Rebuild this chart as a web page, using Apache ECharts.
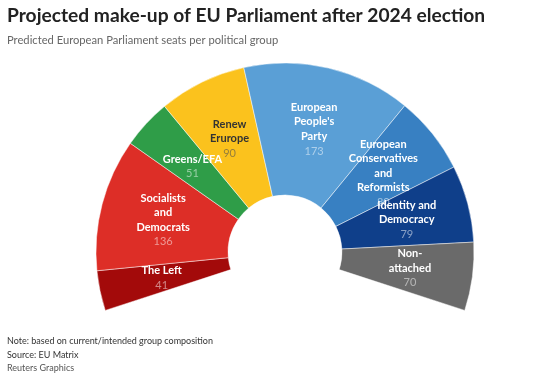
<!DOCTYPE html>
<html lang="en">
<head>
    <meta charset="UTF-8">
    <title>Projected make-up of EU Parliament after 2024 election</title>
    <script src="https://cdn.jsdelivr.net/npm/echarts@6/dist/echarts.min.js"></script>
    <style>
        html, body { margin: 0; padding: 0; background: #ffffff; }
        #chart { width: 546px; height: 375px; }
    </style>
</head>
<body>
    <div id="chart"></div>
    <script>
        // seats per group, left to right
        let groups = ['The Left', 'Socialists\nand\nDemocrats', 'Greens/EFA', 'Renew\nErurope',
            "European\nPeople's\nParty", 'European\nConservatives\nand\nReformists',
            'Identity and\nDemocracy', 'Non-\nattached'];
        let seats = [41, 136, 51, 90, 173, 80, 79, 70];
        let colors = ['#a30a0a', '#dd2e27', '#2f9d48', '#fbc21d', '#5a9fd6', '#3880c2', '#0f3f8a', '#6a6a6a'];

        let font = 'Lato, "Open Sans", sans-serif';

        let data = groups.map(function (g, i) {
            let dark = i === 3;
            return {
                name: g,
                value: seats[i],
                itemStyle: { color: colors[i] },
                label: {
                    rich: {
                        n: { color: dark ? '#333333' : '#ffffff', fontWeight: 'bold', fontSize: 11, lineHeight: 14.5, fontFamily: font },
                        v: { color: dark ? 'rgba(80,80,80,0.6)' : 'rgba(255,255,255,0.5)', fontSize: 11, lineHeight: 15, fontFamily: font }
                    }
                }
            };
        });

        let option = {
            backgroundColor: '#ffffff',
            title: [
                {
                    text: 'Projected make-up of EU Parliament after 2024 election',
                    left: 2, top: 1,
                    textStyle: { fontSize: 19.2, fontWeight: 'bold', color: '#222222', fontFamily: font }
                },
                {
                    text: 'Predicted European Parliament seats per political group',
                    left: 2, top: 30,
                    textStyle: { fontSize: 11.2, fontWeight: 'normal', color: '#666666', fontFamily: font }
                },
                {
                    text: 'Note: based on current/intended group composition\nSource: EU Matrix',
                    left: 2, top: 329,
                    textStyle: { fontSize: 9, fontWeight: 'normal', color: '#333333', lineHeight: 14, fontFamily: font }
                },
                {
                    text: 'Reuters Graphics',
                    left: 2, top: 359,
                    textStyle: { fontSize: 9, fontWeight: 'normal', color: '#555555', fontFamily: font }
                }
            ],
            series: [{
                type: 'pie',
                center: [285, 252],
                radius: [57, 189],
                startAngle: 198,
                endAngle: -18,
                clockwise: true,
                avoidLabelOverlap: false,
                labelLayout: { hideOverlap: false },
                itemStyle: { borderColor: 'rgba(255,255,255,0.6)', borderWidth: 0.8 },
                label: {
                    show: true,
                    position: 'inside',
                    formatter: '{n|{b}}\n{v|{c}}'
                },
                labelLine: { show: false },
                emphasis: { disabled: true },
                data: data
            }]
        };

        let chart = echarts.init(document.getElementById('chart'));
        chart.setOption(option);
    </script>
</body>
</html>
